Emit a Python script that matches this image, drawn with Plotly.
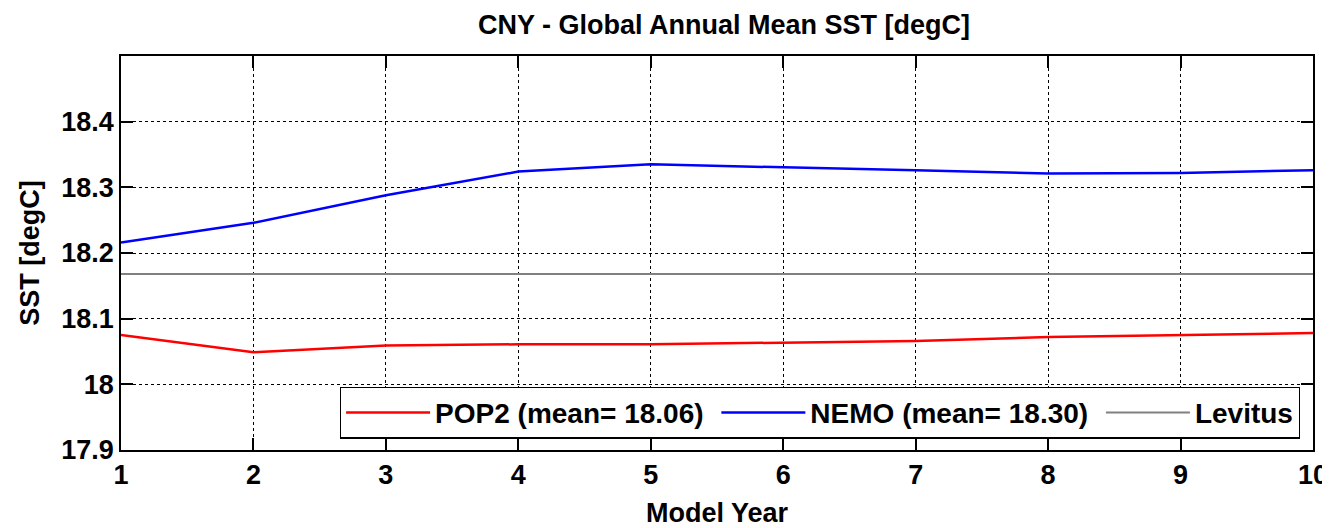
import plotly.graph_objects as go

years = [1, 2, 3, 4, 5, 6, 7, 8, 9, 10]
pop2_sst = [18.075, 18.049, 18.059, 18.061, 18.061, 18.063, 18.066, 18.072, 18.075, 18.078]
nemo_sst = [18.216, 18.246, 18.288, 18.324, 18.335, 18.331, 18.326, 18.321, 18.322, 18.326]
levitus_sst = [18.168, 18.168, 18.168, 18.168, 18.168, 18.168, 18.168, 18.168, 18.168, 18.168]
series_names = ["POP2 (mean= 18.06)", "NEMO (mean= 18.30)", "Levitus"]
x_ticks = [1, 2, 3, 4, 5, 6, 7, 8, 9, 10]
y_ticks = [17.9, 18.0, 18.1, 18.2, 18.3, 18.4]
y_tick_labels = ["17.9", "18", "18.1", "18.2", "18.3", "18.4"]

FONT = "Liberation Sans"
PAD = "\u00a0"  # non-breaking space to widen legend entry spacing

fig = go.Figure()
fig.add_trace(go.Scatter(x=years, y=pop2_sst, mode="lines", name=series_names[0] + PAD,
                         line=dict(color="#ff0000", width=2.5)))
fig.add_trace(go.Scatter(x=years, y=nemo_sst, mode="lines", name=series_names[1] + PAD,
                         line=dict(color="#0000ff", width=2.5)))
fig.add_trace(go.Scatter(x=years, y=levitus_sst, mode="lines", name=series_names[2],
                         line=dict(color="#808080", width=2)))

axis_common = dict(
    showline=True, linecolor="black", linewidth=1.5, mirror="ticks",
    ticks="inside", ticklen=12, tickwidth=1.5, tickcolor="black",
    showgrid=True, gridcolor="black", gridwidth=1, griddash="dot",
    zeroline=False, automargin=False,
    tickfont=dict(family=FONT, size=27, color="black", weight="bold"),
)

# The page body has an 8px default margin, so the figure is 8px smaller
# and margins are reduced to keep the plot area where the reference has it.
fig.update_layout(
    width=1322, height=520,
    margin=dict(l=113, r=17, t=48, b=78),
    paper_bgcolor="white", plot_bgcolor="white",
    title=dict(text="CNY - Global Annual Mean SST [degC]", x=0.5416, xanchor="center",
               y=0.969, yanchor="middle",
               font=dict(family=FONT, size=27, color="black", weight="bold")),
    xaxis=dict(range=[1, 10], tickmode="array", tickvals=x_ticks,
               title=dict(text="Model Year", standoff=17,
                          font=dict(family=FONT, size=27, color="black", weight="bold")),
               **axis_common),
    yaxis=dict(range=[17.9, 18.5], tickmode="array", tickvals=y_ticks, ticktext=y_tick_labels,
               title=dict(text="SST [degC]", standoff=14,
                          font=dict(family=FONT, size=27, color="black", weight="bold")),
               **axis_common),
    legend=dict(orientation="h", x=0.989, xanchor="right", y=0.029, yanchor="bottom",
                bgcolor="white", bordercolor="black", borderwidth=1.2,
                font=dict(family=FONT, size=28, color="black", weight="bold"),
                itemwidth=84, entrywidth=0, tracegroupgap=0),
    showlegend=True,
)

fig.write_html("out.html")
